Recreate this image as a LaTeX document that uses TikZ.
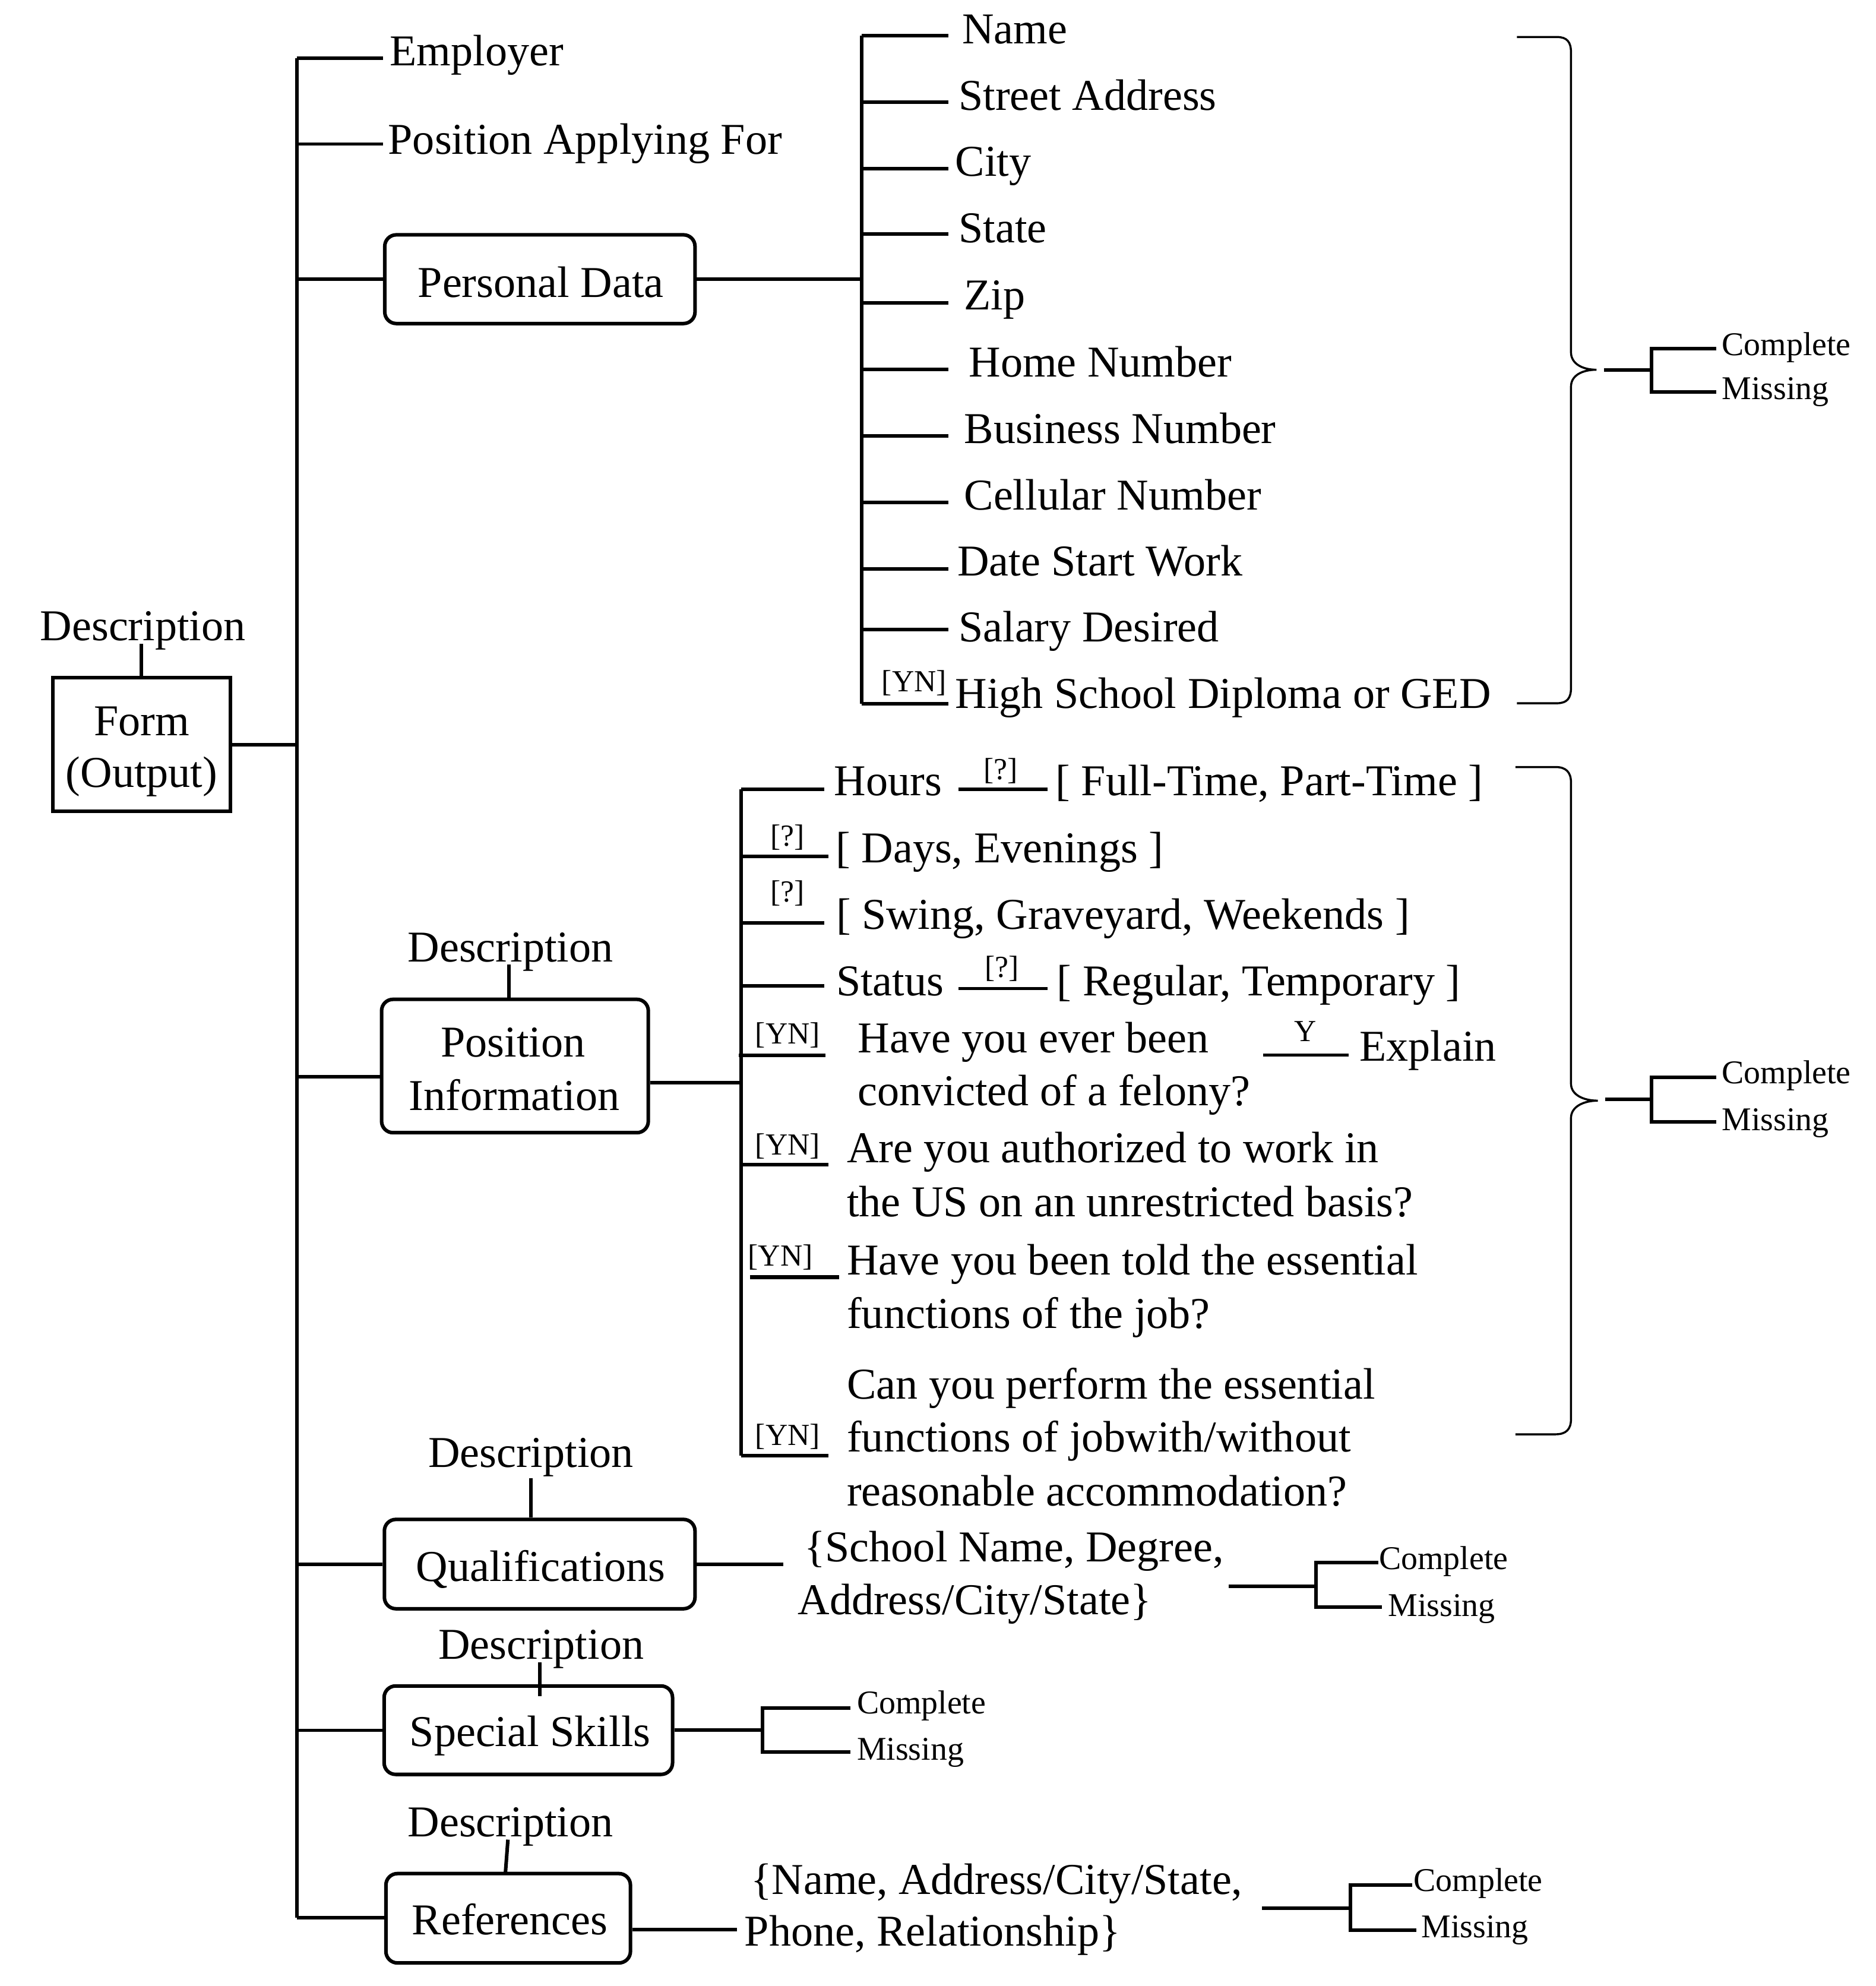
\documentclass[tikz,border=0pt]{standalone}
\usepackage{fontspec}
\setmainfont{Liberation Serif}
\usetikzlibrary{calc}
\begin{document}
\begin{tikzpicture}[x=1pt,y=-1pt,
  ln/.style={line width=2.8pt},
  thinln/.style={line width=1.6pt},
  txt/.style={font=\fontsize{34.5}{41.5}\selectfont, inner sep=0pt, anchor=base west},
  txtc/.style={font=\fontsize{34.5}{41.5}\selectfont, inner sep=0pt, anchor=base},
  smtxt/.style={font=\fontsize{24}{28}\selectfont, inner sep=0pt, anchor=base west},
  smtxtc/.style={font=\fontsize{24}{28}\selectfont, inner sep=0pt, anchor=base},
  cmtxt/.style={font=\fontsize{26}{30}\selectfont, inner sep=0pt, anchor=base west},
  rbox/.style={draw, line width=2.8pt, rounded corners=9pt, inner sep=0pt},
  sbox/.style={draw, line width=2.8pt, inner sep=0pt},
]
\useasboundingbox (0,0) rectangle (1470,1556.1);

% ---------- trunk ----------
\coordinate (tr0) at (232.5,45.7);
\coordinate (tr1) at (232.5,1502.6);
\draw[ln] (tr0) -- (tr1);

% ---------- Form ----------
\node[sbox, minimum width=139.1pt, minimum height=104.7pt] (form) at (110.85,583.35) {};
\node[txtc] (formt1) at (111,576.4) {Form};
\node[txtc] (formt2) at (111,617) {(Output)};
\node[txtc] (fdesc) at (112,502) {Description};
\coordinate (fdc) at (110.85,504.5);
\draw[ln] (fdc) -- (form.north);
\draw[ln] (form.east) -- (form.east -| tr0);

% ---------- Employer / Position Applying For ----------
\node[txt] (emp) at (305.3,51.5) {Employer};
\coordinate (empL) at (300,45.7);
\draw[ln] (tr0) -- (empL);
\node[txt] (paf) at (304,120.7) {Position Applying For};
\coordinate (trPAF) at (232.5,113);
\coordinate (pafL) at (300,113);
\draw[line width=2.4pt] (trPAF) -- (pafL);

% ---------- Personal Data ----------
\node[rbox, minimum width=243.1pt, minimum height=69.5pt] (pd) at (423.05,218.75) {};
\node[txtc] (pdt) at (423.8,232.7) {Personal Data};
\draw[ln] (pd.west -| tr0) -- (pd.west);
\coordinate (pdv0) at (675,27.9);
\coordinate (pdv1) at (675,551.2);
\draw[ln] (pdv0) -- (pdv1);
\draw[ln] (pd.east) -- (pd.east -| pdv0);
\foreach \ly/\tx/\tb/\lab [count=\i] in {
  27.9/753.7/34.3/Name,
  80/751/86.4/Street Address,
  132.2/748.4/137.8/City,
  183.2/751/190/State,
  237.2/755.3/242.8/Zip,
  289.4/759/295.3/Home Number,
  341.5/755.3/347.4/Business Number,
  393.6/755.3/399.6/Cellular Number,
  445.8/750/451.3/Date Start Work,
  493.4/751/502.7/Salary Desired,
  551.2/748.4/554.9/High School Diploma or GED}{
  \coordinate (pa\i) at (675,\ly);
  \coordinate (pb\i) at (743.2,\ly);
  \draw[ln] (pa\i) -- (pb\i);
  \node[txt] (pt\i) at (\tx,\tb) {\lab};
}
\node[smtxt] (yn0) at (690.8,541.8) {[YN]};

% brace 1
\coordinate (b1t) at (1188.6,29);
\coordinate (b1b) at (1188.6,551);
\coordinate (b1tip) at (1251,289.7);
\draw[thinln] (b1t) -- (1220,29) .. controls (1228,29) and (1231,33) .. (1231,41)
  -- (1231,276) .. controls (1231,285) and (1240,289.7) .. (b1tip)
  .. controls (1240,289.7) and (1231,294) .. (1231,303)
  -- (1231,539) .. controls (1231,547) and (1228,551) .. (1220,551) -- (b1b);
% fork 1
\coordinate (f1a) at (1257,289.7);
\coordinate (f1b) at (1294,289.7);
\coordinate (f1t) at (1294,273);
\coordinate (f1m) at (1294,307.2);
\coordinate (f1te) at (1345,273);
\coordinate (f1me) at (1345,307.2);
\draw[ln] (f1a) -- (f1b);
\draw[ln] (f1te) -- (f1t) -- (f1m) -- (f1me);
\node[cmtxt] (c1) at (1349,278.6) {Complete};
\node[cmtxt] (m1) at (1349,312.8) {Missing};

% ---------- Position Information ----------
\node[rbox, minimum width=209pt, minimum height=104.5pt] (pi) at (403.5,835.25) {};
\node[txtc] (pit1) at (402,828) {Position};
\node[txtc] (pit2) at (403,870) {Information};
\node[txtc] (pidesc) at (400,753.7) {Description};
\coordinate (pidc) at (399,755.7);
\draw[ln] (pidc) -- (pidc |- pi.north);
\coordinate (trPI) at (232.5,843.6);
\draw[ln] (trPI) -- (trPI -| pi.west);
\coordinate (piv0) at (580.6,618.5);
\coordinate (piv1) at (580.6,1140.4);
\coordinate (piv) at (580.6,848.5);
\draw[ln] (piv -| pi.east) -- (piv);
\draw[ln] (piv0) -- (piv1);

% Hours
\coordinate (h1) at (646,618.5);
\draw[ln] (piv0) -- (h1);
\node[txt] (hours) at (653.5,623.5) {Hours};
\coordinate (hq0) at (751,618.5);
\coordinate (hq1) at (821,618.5);
\draw[line width=2.5pt] (hq0) -- (hq1);
\node[smtxtc] (hq) at (784,610.7) {[?]};
\node[txt] (hv) at (827,623.5) {[ Full-Time, Part-Time ]};
% Days
\coordinate (d0) at (580.6,670.8);
\coordinate (d1) at (649,670.8);
\draw[ln] (d0) -- (d1);
\node[smtxtc] (dq) at (617,663) {[?]};
\node[txt] (dv) at (654.7,675.8) {[ Days, Evenings ]};
% Swing
\coordinate (s0) at (580.6,723);
\coordinate (s1) at (646,723);
\draw[ln] (s0) -- (s1);
\node[smtxtc] (sq) at (617,706.4) {[?]};
\node[txt] (sv) at (655,728) {[ Swing, Graveyard, Weekends ]};
% Status
\coordinate (st0) at (580.6,772.6);
\coordinate (st1) at (646,772.6);
\draw[ln] (st0) -- (st1);
\node[txt] (status) at (655,780) {Status};
\coordinate (sq0) at (751,774.5);
\coordinate (sq1) at (821,774.5);
\draw[line width=2.5pt] (sq0) -- (sq1);
\node[smtxtc] (stq) at (785,765.6) {[?]};
\node[txt] (stv) at (828,780) {[ Regular, Temporary ]};
% Felony
\coordinate (fe0) at (579,826.8);
\coordinate (fe1) at (647,826.8);
\draw[ln] (fe0) -- (fe1);
\node[smtxt] (feyn) at (591.7,817.9) {[YN]};
\node[txt] (fet1) at (672,824.9) {Have you ever been};
\node[txt] (fet2) at (672,866.3) {convicted of a felony?};
\coordinate (y0) at (990,826.8);
\coordinate (y1) at (1057,826.8);
\draw[line width=2.5pt] (y0) -- (y1);
\node[smtxtc] (yy) at (1023,816) {Y};
\node[txt] (expl) at (1065,831.4) {Explain};
% Authorized
\coordinate (au0) at (580.6,912.7);
\coordinate (au1) at (649,912.7);
\draw[ln] (au0) -- (au1);
\node[smtxt] (auyn) at (591.7,905) {[YN]};
\node[txt] (aut1) at (663.5,910.8) {Are you authorized to work in};
\node[txt] (aut2) at (663.5,953.4) {the US on an unrestricted basis?};
% Told
\coordinate (to0) at (587.6,1000.7);
\coordinate (to1) at (657.6,1000.7);
\draw[ln] (to0) -- (to1);
\node[smtxt] (toyn) at (586,992) {[YN]};
\node[txt] (tot1) at (663.5,998.7) {Have you been told the essential};
\node[txt] (tot2) at (663.5,1040.5) {functions of the job?};
% Perform
\coordinate (pe1) at (649,1140.4);
\draw[ln] (piv1) -- (pe1);
\node[smtxt] (peyn) at (591.7,1132.3) {[YN]};
\node[txt] (pet1) at (663.5,1096) {Can you perform the essential};
\node[txt] (pet2) at (663.5,1137.3) {functions of jobwith/without};
\node[txt] (pet3) at (663.5,1180) {reasonable accommodation?};

% brace 2
\coordinate (b2t) at (1187.5,601);
\coordinate (b2b) at (1187.5,1123.8);
\coordinate (b2tip) at (1252,862.4);
\draw[thinln] (b2t) -- (1219,601) .. controls (1227,601) and (1231,605) .. (1231,613)
  -- (1231,849) .. controls (1231,858) and (1241,862.4) .. (b2tip)
  .. controls (1241,862.4) and (1231,867) .. (1231,876)
  -- (1231,1112) .. controls (1231,1120) and (1227,1123.8) .. (1219,1123.8) -- (b2b);
% fork 2
\coordinate (f2a) at (1258,861.3);
\coordinate (f2b) at (1294,861.3);
\coordinate (f2t) at (1294,844.2);
\coordinate (f2m) at (1294,879);
\coordinate (f2te) at (1345,844.2);
\coordinate (f2me) at (1345,879);
\draw[ln] (f2a) -- (f2b);
\draw[ln] (f2te) -- (f2t) -- (f2m) -- (f2me);
\node[cmtxt] (c2) at (1349,848.9) {Complete};
\node[cmtxt] (m2) at (1349,885.6) {Missing};

% ---------- Qualifications ----------
\node[rbox, minimum width=243.4pt, minimum height=70pt] (q) at (422.9,1225.5) {};
\node[txtc] (qt) at (423.7,1239) {Qualifications};
\node[txtc] (qdesc) at (416,1149.5) {Description};
\coordinate (qdc) at (416,1158);
\draw[ln] (qdc) -- (qdc |- q.north);
\draw[ln] (q.west -| tr0) -- (q.west);
\coordinate (ql) at (614,1225.5);
\draw[ln] (q.east) -- (ql);
\node[txt] (qv1) at (629.9,1223.5) {\{School Name, Degree,};
\node[txt] (qv2) at (625,1265) {Address/City/State\}};
\coordinate (f3a) at (963,1243.1);
\coordinate (f3b) at (1031.4,1243.1);
\coordinate (f3t) at (1031.4,1224.3);
\coordinate (f3m) at (1031.4,1259.4);
\coordinate (f3te) at (1080,1224.3);
\coordinate (f3me) at (1082.7,1259.4);
\draw[ln] (f3a) -- (f3b);
\draw[ln] (f3te) -- (f3t) -- (f3m) -- (f3me);
\node[cmtxt] (c3) at (1080.4,1229.8) {Complete};
\node[cmtxt] (m3) at (1087.5,1266.2) {Missing};

% ---------- Special Skills ----------
\node[rbox, minimum width=226pt, minimum height=69.3pt] (ss) at (414,1355.65) {};
\node[txtc] (sst) at (415.4,1368.5) {Special Skills};
\node[txtc] (ssdesc) at (424,1300) {Description};
\coordinate (ssdc) at (422.8,1302.5);
\coordinate (ssdc2) at (422.8,1329);
\draw[ln] (ssdc) -- (ssdc2);
\draw[line width=2.4pt] (ss.west -| tr0) -- (ss.west);
\coordinate (f4b) at (597.5,1355.65);
\coordinate (f4t) at (597.5,1338.2);
\coordinate (f4m) at (597.5,1372.9);
\coordinate (f4te) at (666.5,1338.2);
\coordinate (f4me) at (666.5,1372.9);
\draw[ln] (ss.east) -- (f4b);
\draw[ln] (f4te) -- (f4t) -- (f4m) -- (f4me);
\node[cmtxt] (c4) at (671.3,1342.8) {Complete};
\node[cmtxt] (m4) at (671.3,1379.2) {Missing};

% ---------- References ----------
\node[rbox, minimum width=191.6pt, minimum height=70pt] (ref) at (398.2,1503) {};
\node[txtc] (reft) at (399.4,1516) {References};
\node[txtc] (refdesc) at (400,1439) {Description};
\coordinate (rdc) at (398,1441.4);
\coordinate (rdc2) at (396,1468);
\draw[ln] (rdc) -- (rdc2);
\draw[ln] (tr1) -- (tr1 -| ref.west);
\coordinate (rl) at (577.5,1511.7);
\draw[ln] (ref.east |- rl) -- (rl);
\node[txt] (rv1) at (588,1484) {\{Name, Address/City/State,};
\node[txt] (rv2) at (583.3,1524.7) {Phone, Relationship\}};
\coordinate (f5a) at (989,1495.1);
\coordinate (f5b) at (1058,1495.1);
\coordinate (f5t) at (1058,1477);
\coordinate (f5m) at (1058,1512.2);
\coordinate (f5te) at (1106.5,1477);
\coordinate (f5me) at (1110,1512.2);
\draw[ln] (f5a) -- (f5b);
\draw[ln] (f5te) -- (f5t) -- (f5m) -- (f5me);
\node[cmtxt] (c5) at (1107.5,1482) {Complete};
\node[cmtxt] (m5) at (1113.7,1518) {Missing};
\end{tikzpicture}
\end{document}
